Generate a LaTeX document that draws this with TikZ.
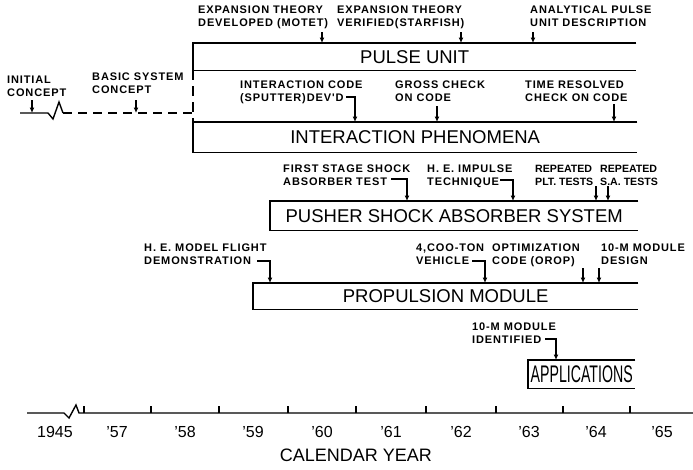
\documentclass[tikz,border=0pt]{standalone}
\usepackage{fontspec}
\setmainfont{Liberation Sans}
\newfontfamily\lblfont[LetterSpace=8]{Liberation Sans Bold}
\newfontfamily\lblnarrow{Liberation Sans Bold}
\usetikzlibrary{arrows.meta}
\begin{document}
\begin{tikzpicture}[x=1pt,y=-1pt,
  lbl/.style={font=\lblfont\fontsize{11}{13}\selectfont, align=left, anchor=north west, inner sep=0pt},
  lbln/.style={font=\lblnarrow\fontsize{10.6}{13}\selectfont, align=left, anchor=north west, inner sep=0pt},
  box/.style={font=\fontsize{18.5}{20}\selectfont, inner sep=0pt, anchor=north west},
  bx/.style={line width=1.4pt},
  yr/.style={font=\fontsize{16}{18}\selectfont, inner sep=0pt},
  arr/.style={line width=1.1pt, -{Latex[length=5.5pt,width=5pt]}},
  tk/.style={line width=1.1pt},
]
\useasboundingbox (0,0) rectangle (693,469);
\fill[white] (0,0) rectangle (693,469);

% boxes (open on the right)
\node[box, minimum width=443pt, minimum height=27pt] (pulse) at (193,43) {PULSE UNIT};
\node[box, minimum width=444pt, minimum height=30pt] (inter) at (193,122) {INTERACTION PHENOMENA};
\node[box, minimum width=368pt, minimum height=29pt] (pusher) at (270,201) {PUSHER SHOCK ABSORBER SYSTEM};
\node[box, minimum width=385pt, minimum height=26pt] (prop) at (253,283) {PROPULSION MODULE};
\node[box, minimum width=107pt, minimum height=28pt] (appl) at (528,360) {\scalebox{0.59}[1]{\fontsize{24}{24}\selectfont APPLICATIONS}};
\foreach \b in {pulse,inter,pusher,prop,appl}
  \draw[bx] (\b.north east) -- (\b.north west) -- (\b.south west) -- (\b.south east);
\draw[bx, dash pattern=on 10pt off 6pt] (pulse.south west) -- (inter.north west);

% early concept line
\coordinate (lineL) at (20,113);
\draw[bx] (lineL) -- (48,113) -- (53,119) -- (59,102) -- (63,113);
\draw[bx, dash pattern=on 9pt off 6pt] (63,113) -- (inter.north west |- 0,113);

% labels
\node[lbl] (l1) at (198,6) {EXPANSION THEORY\\DEVELOPED (MOTET)};
\node[lbl] (l2) at (337,6) {EXPANSION THEORY\\VERIFIED(STARFISH)};
\node[lbl] (l3) at (530,6) {ANALYTICAL PULSE\\UNIT DESCRIPTION};
\node[lbl] (l4) at (7,76) {INITIAL\\CONCEPT};
\node[lbl] (l5) at (92,73) {BASIC SYSTEM\\CONCEPT};
\node[lbl] (l6) at (240,81) {INTERACTION CODE\\(SPUTTER)DEV'D};
\node[lbl] (l7) at (395,81) {GROSS CHECK\\ON CODE};
\node[lbl] (l8) at (525,81) {TIME RESOLVED\\CHECK ON CODE};
\node[lbl] (l9) at (283,165) {FIRST STAGE SHOCK\\ABSORBER TEST};
\node[lbl] (l10) at (427,165) {H. E. IMPULSE\\TECHNIQUE};
\node[lbln] (l11) at (535,165) {REPEATED\\PLT. TESTS};
\node[lbln] (l12) at (600,165) {REPEATED\\S.A. TESTS};
\node[lbl] (l13) at (144,244) {H. E. MODEL FLIGHT\\DEMONSTRATION};
\node[lbl] (l14) at (416,244) {4,COO-TON\\VEHICLE};
\node[lbl] (l15) at (492,244) {OPTIMIZATION\\CODE (OROP)};
\node[lbl] (l16) at (601,244) {10-M MODULE\\DESIGN};
\node[lbl] (l17) at (472,323) {10-M MODULE\\IDENTIFIED};

% straight arrows
\coordinate (a1) at (322,32);
\coordinate (a2) at (461,32);
\coordinate (a3) at (533,32);
\coordinate (a4) at (32,100);
\coordinate (a5) at (136,100);
\coordinate (a7) at (437,106);
\coordinate (a8) at (614,104);
\coordinate (a11) at (596,186);
\coordinate (a12) at (608,186);
\coordinate (a15) at (583,268);
\coordinate (a16) at (599,268);
\foreach \a in {a1,a2,a3} \draw[arr] (\a) -- (\a |- pulse.north);
\foreach \a in {a4,a5} \draw[arr] (\a) -- (\a |- lineL);
\foreach \a in {a7,a8} \draw[arr] (\a) -- (\a |- inter.north);
\foreach \a in {a11,a12} \draw[arr] (\a) -- (\a |- pusher.north);
\foreach \a in {a15,a16} \draw[arr] (\a) -- (\a |- prop.north);

% hooked arrows
\coordinate (h6) at (346,97);
\coordinate (h9) at (391,179);
\coordinate (h10) at (500,180);
\coordinate (h13) at (257,261);
\coordinate (h14) at (472,261);
\coordinate (h17) at (545,339);
\draw[arr] (h6) -- ++(9,0) coordinate (t6) -- (t6 |- inter.north);
\draw[arr] (h9) -- ++(16,0) coordinate (t9) -- (t9 |- pusher.north);
\draw[arr] (h10) -- ++(13,0) coordinate (t10) -- (t10 |- pusher.north);
\draw[arr] (h13) -- ++(13,0) coordinate (t13) -- (t13 |- prop.north);
\draw[arr] (h14) -- ++(13,0) coordinate (t14) -- (t14 |- prop.north);
\draw[arr] (h17) -- ++(11,0) coordinate (t17) -- (t17 |- appl.north);

% time axis
\coordinate (axL) at (27,413);
\coordinate (axR) at (693,413);
\draw[bx] (axL) -- (64,413) -- (69,418) -- (76,405) -- (79,413) -- (axR);
\foreach \x in {84,151,219,288,356,426,496,563,630}
  \draw[tk] (\x,413) -- (\x,406);
\node[yr] (y45) at (55,432) {1945};
\foreach \x/\t in {117/57,185/58,253/59,322/60,391/61,461/62,529/63,596/64,662/65}
  \node[yr] (y\t) at (\x,432) {'\t};
\node[font=\fontsize{18}{20}\selectfont, inner sep=0pt] (cy) at (356,455) {CALENDAR YEAR};
\end{tikzpicture}
\end{document}
